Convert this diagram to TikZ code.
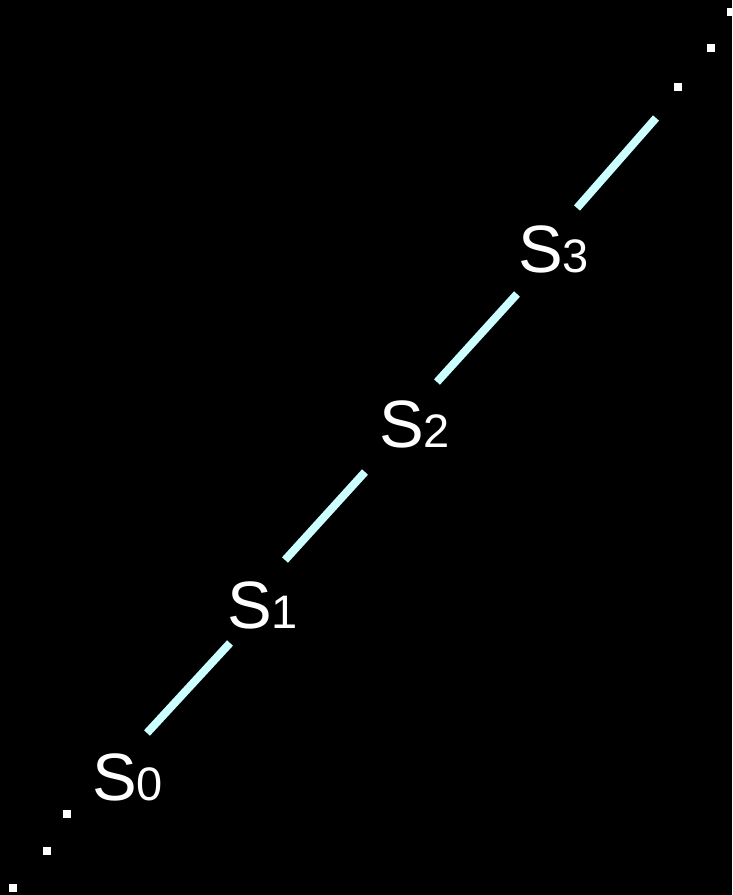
\documentclass[tikz,border=0pt]{standalone}
\usepackage{fontspec}
\setmainfont{Liberation Sans}
\newcommand{\stlabel}[1]{\fontsize{67}{67}\selectfont S{\fontsize{47}{47}\selectfont #1}}
\begin{document}
\begin{tikzpicture}[x=1pt,y=-1pt,
  seg/.style={draw={rgb,255:red,204;green,255;blue,255},line width=8pt},
  dot/.style={fill=white,minimum size=8pt,inner sep=0pt},
  lbl/.style={text=white,inner sep=0pt,anchor=base west}]
\fill[black] (0,0) rectangle (732,895);
\useasboundingbox (0,0) rectangle (732,895);
% dots
\node[dot] (d1) at (13,888) {};
\node[dot] (d2) at (47,851) {};
\node[dot] (d3) at (67,814) {};
\node[dot] (d4) at (678,87) {};
\node[dot] (d5) at (711,48) {};
\node[dot] (d6) at (731,12) {};
% segment endpoints
\coordinate (a0) at (147,733);
\coordinate (a1) at (230,643);
\coordinate (b0) at (285,560);
\coordinate (b1) at (365,472);
\coordinate (c0) at (437,382);
\coordinate (c1) at (517,294);
\coordinate (e0) at (577,208);
\coordinate (e1) at (656,118);
\draw[seg] (a0) -- (a1);
\draw[seg] (b0) -- (b1);
\draw[seg] (c0) -- (c1);
\draw[seg] (e0) -- (e1);
% labels
\node[lbl] (s0) at (92,800) {\stlabel{0}};
\node[lbl] (s1) at (227,628) {\stlabel{1}};
\node[lbl] (s2) at (379,447) {\stlabel{2}};
\node[lbl] (s3) at (518,272) {\stlabel{3}};
\end{tikzpicture}
\end{document}
